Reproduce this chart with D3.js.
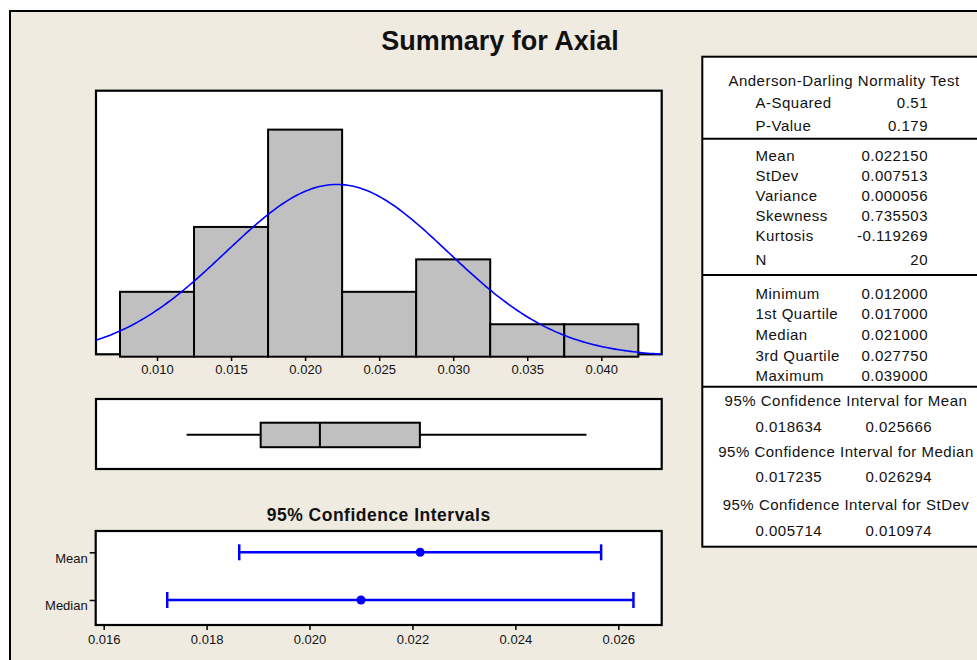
<!DOCTYPE html>
<html>
<head>
<meta charset="utf-8">
<script src="https://cdn.jsdelivr.net/npm/d3@7"></script>
<style>
  body { margin: 0; background: #ffffff; }
  svg text { font-family: "Liberation Sans", Arial, sans-serif; fill: #111; }
</style>
</head>
<body>
<svg id="canvas_svg" width="977" height="660"></svg>
<script>
// ---- data ----
var binCenters = [0.010, 0.015, 0.020, 0.025, 0.030, 0.035, 0.040];
var binCounts = [2, 4, 7, 2, 3, 1, 1];
var binWidth = 0.005;
var histTicks = [0.010, 0.015, 0.020, 0.025, 0.030, 0.035, 0.040];

var mean = 0.022150, stdev = 0.007513, n = 20;
var boxValues = [0.012000, 0.017000, 0.021000, 0.027750, 0.039000]; // min, q1, median, q3, max

var ciNames = ["Mean", "Median"];
var ciLow = [0.018634, 0.017235];
var ciHigh = [0.025666, 0.026294];
var ciCenter = [0.022150, 0.021000];
var ciTicks = [0.016, 0.018, 0.020, 0.022, 0.024, 0.026];

var adLabels = ["A-Squared", "P-Value"];
var adValues = ["0.51", "0.179"];
var momentLabels = ["Mean", "StDev", "Variance", "Skewness", "Kurtosis", "N"];
var momentValues = ["0.022150", "0.007513", "0.000056", "0.735503", "-0.119269", "20"];
var quantLabels = ["Minimum", "1st Quartile", "Median", "3rd Quartile", "Maximum"];
var quantValues = ["0.012000", "0.017000", "0.021000", "0.027750", "0.039000"];
var ciTitles = ["95% Confidence Interval for Mean", "95% Confidence Interval for Median", "95% Confidence Interval for StDev"];
var ciTableLow = ["0.018634", "0.017235", "0.005714"];
var ciTableHigh = ["0.025666", "0.026294", "0.010974"];

var svg = d3.select("#canvas_svg");
var bg = "#efebe1";

// outer frame
svg.append("rect").attr("x", 10).attr("y", 11).attr("width", 1000).attr("height", 700)
  .attr("fill", bg).attr("stroke", "#000").attr("stroke-width", 2);

svg.append("text").attr("x", 500).attr("y", 50).attr("text-anchor", "middle")
  .style("font-size", "27px").style("font-weight", "bold").text("Summary for Axial");

// ---- histogram ----
var x = d3.scaleLinear().domain([0.00588, 0.04408]).range([96, 661.7]);
var y = d3.scaleLinear().domain([0, 8.2]).range([356.7, 90.7]);

svg.append("rect").attr("x", 96).attr("y", 90.7).attr("width", 661.7 - 96).attr("height", 354.3 - 90.7)
  .attr("fill", "#fff").attr("stroke", "#000").attr("stroke-width", 2.2);

svg.append("g").selectAll("rect")
  .data(binCenters)
  .enter().append("rect")
  .attr("x", (d) => x(d - binWidth / 2))
  .attr("width", (d) => x(d + binWidth / 2) - x(d - binWidth / 2))
  .attr("y", (d, i) => y(binCounts[i]))
  .attr("height", (d, i) => y(0) - y(binCounts[i]))
  .attr("fill", "#c0c0c0").attr("stroke", "#000").attr("stroke-width", 2);

// fitted normal curve from mean / stdev
var scale = n * binWidth / (stdev * Math.sqrt(2 * Math.PI));
var xs = d3.range(0, 201).map((i) => x.domain()[0] + i * (x.domain()[1] - x.domain()[0]) / 200);
var line = d3.line()
  .x((d) => x(d))
  .y((d) => Math.min(354.3, y(scale * Math.exp(-0.5 * Math.pow((d - mean) / stdev, 2)))));
svg.append("path").datum(xs).attr("d", line)
  .attr("fill", "none").attr("stroke", "#0000ff").attr("stroke-width", 1.6);

var xAxis = d3.axisBottom(x).tickValues(histTicks).tickFormat(d3.format(".3f")).tickSize(4).tickPadding(4);
var gx = svg.append("g").attr("transform", "translate(0,357)").call(xAxis);
gx.select(".domain").remove();
gx.selectAll("line").attr("stroke", "#000").attr("stroke-width", 1.5);
gx.selectAll("text").style("font-size", "13px").attr("fill", "#111");

// ---- boxplot ----
svg.append("rect").attr("x", 96).attr("y", 399).attr("width", 661.7 - 96).attr("height", 70)
  .attr("fill", "#fff").attr("stroke", "#000").attr("stroke-width", 2.2);
var by = 434.7;
var gb = svg.append("g");
gb.append("line").attr("x1", x(boxValues[0])).attr("x2", x(boxValues[1]))
  .attr("y1", by).attr("y2", by).attr("stroke", "#000").attr("stroke-width", 2);
gb.append("line").attr("x1", x(boxValues[3])).attr("x2", x(boxValues[4]))
  .attr("y1", by).attr("y2", by).attr("stroke", "#000").attr("stroke-width", 2);
gb.append("rect").attr("x", x(boxValues[1])).attr("width", x(boxValues[3]) - x(boxValues[1]))
  .attr("y", 422.7).attr("height", 24.5)
  .attr("fill", "#c0c0c0").attr("stroke", "#000").attr("stroke-width", 2);
gb.append("line").attr("x1", x(boxValues[2])).attr("x2", x(boxValues[2]))
  .attr("y1", 422.7).attr("y2", 447.2).attr("stroke", "#000").attr("stroke-width", 2);

// ---- confidence intervals ----
svg.append("text").attr("x", 378.7).attr("y", 521).attr("text-anchor", "middle")
  .style("font-size", "17.5px").style("font-weight", "bold").style("letter-spacing", "0.5px")
  .text("95% Confidence Intervals");

var cx = d3.scaleLinear().domain([0.015845, 0.026843]).range([95.7, 661.7]);
var cy = d3.scalePoint().domain(ciNames).range([552.3, 600]);

svg.append("rect").attr("x", 95.7).attr("y", 531).attr("width", 661.7 - 95.7).attr("height", 94)
  .attr("fill", "#fff").attr("stroke", "#000").attr("stroke-width", 2.2);

var ciAxis = d3.axisBottom(cx).tickValues(ciTicks).tickFormat(d3.format(".3f")).tickSize(5).tickPadding(5);
var gcx = svg.append("g").attr("transform", "translate(0,625)").call(ciAxis);
gcx.select(".domain").remove();
gcx.selectAll("line").attr("stroke", "#000").attr("stroke-width", 1.5);
gcx.selectAll("text").style("font-size", "13px").attr("fill", "#111");

var cyAxis = d3.axisLeft(cy).tickSize(6).tickPadding(2);
var gcy = svg.append("g").attr("transform", "translate(95.7,0)").call(cyAxis);
gcy.select(".domain").remove();
gcy.selectAll("line").attr("stroke", "#000").attr("stroke-width", 1.5);
gcy.selectAll("text").style("font-size", "13px").attr("fill", "#111").attr("dy", "0.75em");

var gci = svg.append("g").selectAll("g").data(ciNames).enter().append("g");
gci.append("line").attr("x1", (d, i) => cx(ciLow[i])).attr("x2", (d, i) => cx(ciHigh[i]))
  .attr("y1", (d) => cy(d)).attr("y2", (d) => cy(d)).attr("stroke", "#0000ff").attr("stroke-width", 2.5);
gci.append("line").attr("x1", (d, i) => cx(ciLow[i])).attr("x2", (d, i) => cx(ciLow[i]))
  .attr("y1", (d) => cy(d) - 8).attr("y2", (d) => cy(d) + 8).attr("stroke", "#0000ff").attr("stroke-width", 2.5);
gci.append("line").attr("x1", (d, i) => cx(ciHigh[i])).attr("x2", (d, i) => cx(ciHigh[i]))
  .attr("y1", (d) => cy(d) - 8).attr("y2", (d) => cy(d) + 8).attr("stroke", "#0000ff").attr("stroke-width", 2.5);
gci.append("circle").attr("cx", (d, i) => cx(ciCenter[i])).attr("cy", (d) => cy(d)).attr("r", 4.5)
  .attr("fill", "#0000ff");

// ---- statistics table ----
var tb = svg.append("g").style("font-size", "15px").style("letter-spacing", "0.5px");
tb.append("rect").attr("x", 702.3).attr("y", 56.7).attr("width", 300).attr("height", 546.7 - 56.7)
  .attr("fill", "#fff").attr("stroke", "#000").attr("stroke-width", 2);
[138.7, 275, 386.7].forEach(function(yy) {
  tb.append("line").attr("x1", 702).attr("x2", 980).attr("y1", yy).attr("y2", yy)
    .attr("stroke", "#000").attr("stroke-width", 2);
});

var labX = 755.5, valX = 928;
tb.append("text").attr("x", 844).attr("y", 86).attr("text-anchor", "middle").text("Anderson-Darling Normality Test");

function rows(labels, values, ys) {
  labels.forEach(function(l, i) {
    tb.append("text").attr("x", labX).attr("y", ys[i]).text(l);
    tb.append("text").attr("x", valX).attr("y", ys[i]).attr("text-anchor", "end").text(values[i]);
  });
}
rows(adLabels, adValues, [108, 130.5]);
rows(momentLabels, momentValues, [161, 181, 201, 221, 241, 265]);
rows(quantLabels, quantValues, [298.5, 319.3, 340, 360.5, 381.3]);

var ciTitleY = [406, 456.5, 510];
ciTitles.forEach(function(t, i) {
  tb.append("text").attr("x", 846).attr("y", ciTitleY[i]).attr("text-anchor", "middle").text(t);
  tb.append("text").attr("x", labX).attr("y", ciTitleY[i] + 25.5).text(ciTableLow[i]);
  tb.append("text").attr("x", 865.5).attr("y", ciTitleY[i] + 25.5).text(ciTableHigh[i]);
});
</script>
</body>
</html>
